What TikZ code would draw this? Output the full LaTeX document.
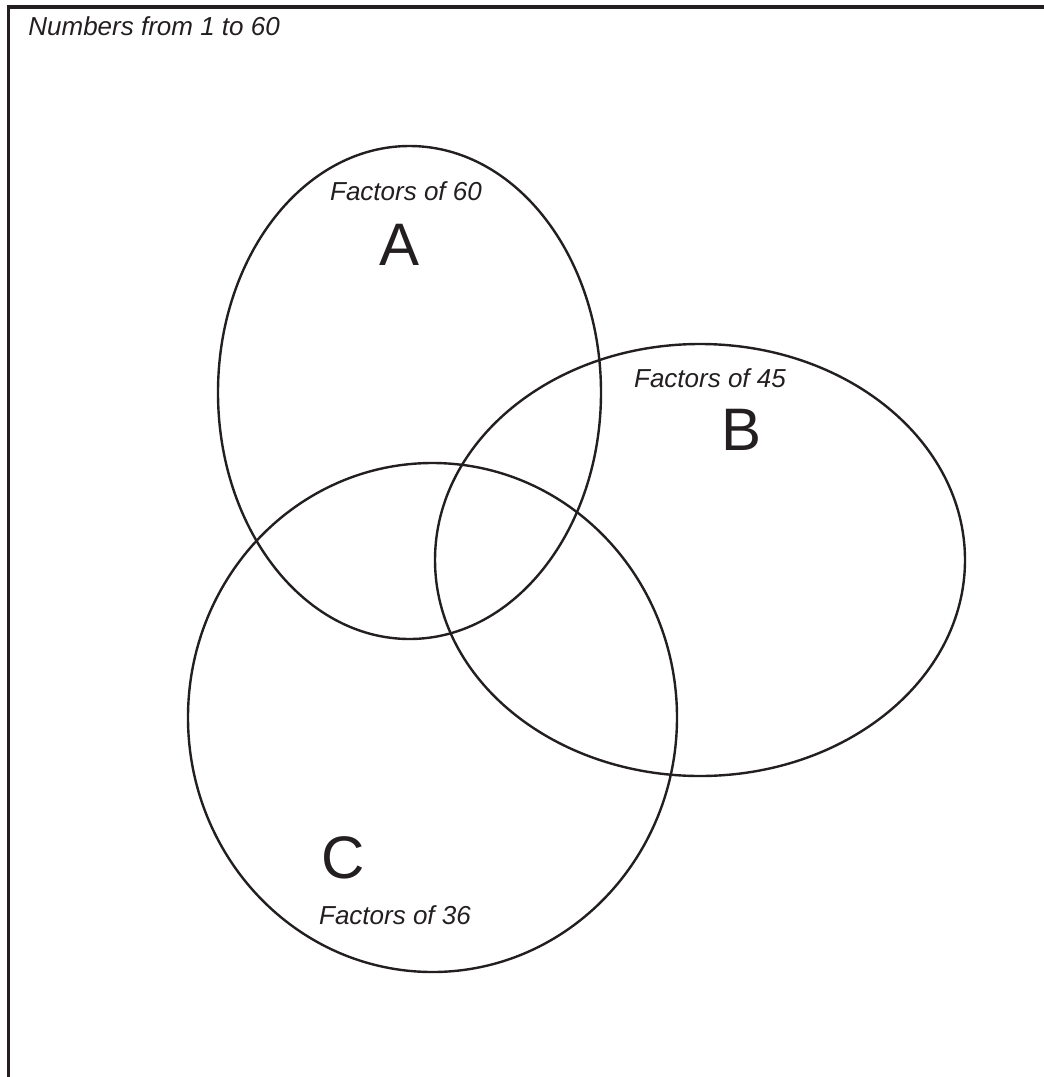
\documentclass[tikz,border=0pt]{standalone}
\usepackage{fontspec}
\setmainfont{Liberation Sans}
\usepackage{tikz}
\definecolor{inkc}{RGB}{35,31,32}
\tikzset{
  frameline/.style = {draw=inkc, line width=1.6pt},
  setline/.style   = {draw=inkc, line width=1.2pt},
  setname/.style   = {font=\fontsize{13}{15}\selectfont\itshape, text=inkc, inner sep=0pt},
  setletter/.style = {font=\fontsize{30}{34}\selectfont, text=inkc, inner sep=0pt},
}

\begin{document}
\begin{tikzpicture}[x=0.5pt, y=-0.5pt]
\useasboundingbox (0,0) rectangle (1044,1077);

% universal set
\coordinate (topright) at (1044,7);
\coordinate (corner) at (8.5,7);
\coordinate (bottomleft) at (8.5,1077);
\draw[frameline] (topright) -- (corner) -- (bottomleft);
\node[setname, anchor=west] (univ) at (28,26) {Numbers from 1 to 60};

% the three sets
\draw[setline] (409.5,392.5) ellipse [x radius=191.5, y radius=246.5];
\draw[setline] (700,560) ellipse [x radius=265, y radius=216];
\draw[setline] (432.5,717.5) ellipse [x radius=244.5, y radius=254.5];

\node[setname] (nameA) at (406,191) {Factors of 60};
\node[setletter] (letA) at (400,245) {A};
\node[setname] (nameB) at (710,378) {Factors of 45};
\node[setletter] (letB) at (742,430) {B};
\node[setletter] (letC) at (343,858) {C};
\node[setname] (nameC) at (395,915) {Factors of 36};

\end{tikzpicture}
\end{document}
